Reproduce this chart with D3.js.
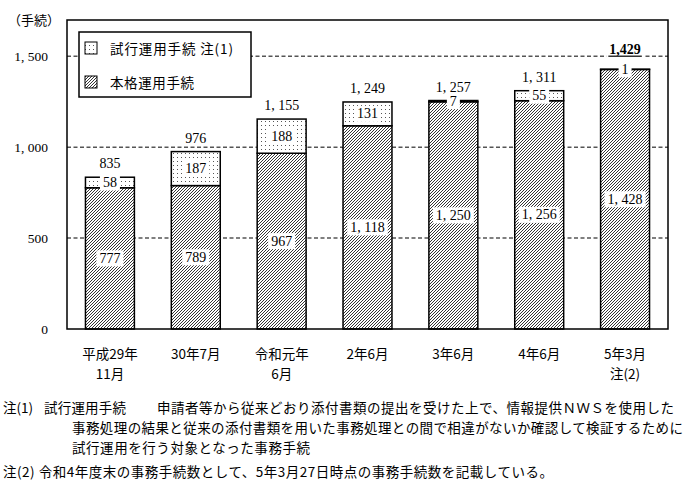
<!DOCTYPE html>
<html><head><meta charset="utf-8">
<script src="https://cdn.jsdelivr.net/npm/d3@7"></script>
<style>
body{margin:0;background:#fff;}
svg{display:block;}
</style></head>
<body>
<svg id="chart" width="696" height="500"></svg>
<script>
const categories = [["平成29年","11月"],["30年7月"],["令和元年","6月"],["2年6月"],["3年6月"],["4年6月"],["5年3月","注(2)"]];
const mainValues  = [777, 789, 967, 1118, 1250, 1256, 1428];
const trialValues = [58, 187, 188, 131, 7, 55, 1];
const totals      = [835, 976, 1155, 1249, 1257, 1311, 1429];
const yTicks      = [0, 500, 1000, 1500];
const seriesNames = ["試行運用手続 注(1)", "本格運用手続"];
const unitLabel   = "（手続）";
const note1Parts  = ["注(1)", "試行運用手続", "申請者等から従来どおり添付書類の提出を受けた上で、情報提供ＮＷＳを使用した"];
const note1Lines  = [
  "事務処理の結果と従来の添付書類を用いた事務処理との間で相違がないか確認して検証するために",
  "試行運用を行う対象となった事務手続"
];
const note2 = "注(2) 令和4年度末の事務手続数として、5年3月27日時点の事務手続数を記載している。";

const svg = d3.select("#chart");
const JP = "'Noto Sans CJK JP', sans-serif";
const NUM = "'Liberation Serif', 'DejaVu Serif', serif";
const fmt = v => d3.format(",")(v).replace(/,/g, ", ");

const m = {left:67, right:668, top:20, bottom:329};
const x = d3.scaleBand().domain(d3.range(categories.length)).range([m.left, m.right]).paddingInner(0.43).paddingOuter(0.215);
const y = d3.scaleLinear().domain([0, 1700]).range([m.bottom, m.top]);

// patterns
const defs = svg.append("defs");
const hatch = defs.append("pattern").attr("id","hatch").attr("patternUnits","userSpaceOnUse").attr("width",3).attr("height",3);
hatch.append("rect").attr("width",3).attr("height",3).attr("fill","#fff");
hatch.append("path").attr("d","M-1,1 L1,-1 M0,3 L3,0 M2,4 L4,2").attr("stroke","#111").attr("stroke-width",0.85);
const dots = defs.append("pattern").attr("id","dots").attr("patternUnits","userSpaceOnUse").attr("width",4).attr("height",4);
dots.append("rect").attr("width",4).attr("height",4).attr("fill","#fff");
dots.append("rect").attr("x",1).attr("y",1).attr("width",1).attr("height",1).attr("fill","#555");

// gridlines
svg.append("g").selectAll("line").data(yTicks.filter(d=>d>0)).join("line")
  .attr("x1",m.left).attr("x2",m.right).attr("y1",d=>y(d)).attr("y2",d=>y(d))
  .attr("stroke","#555").attr("stroke-width",1.5).attr("stroke-dasharray","4,2.5");

// y axis labels
const yAxis = d3.axisLeft(y).tickValues(yTicks).tickFormat(fmt).tickSize(0).tickPadding(19);
const ya = svg.append("g").attr("transform",`translate(${m.left},0)`).call(yAxis);
ya.select(".domain").remove();
ya.selectAll("text").attr("font-family",NUM).attr("font-size",13.5).attr("fill","#000");

svg.append("text").attr("x",8).attr("y",19).attr("dominant-baseline","central")
  .attr("font-family",JP).attr("font-size",13).text(unitLabel);

// bars
const g = svg.append("g");
g.selectAll("rect.main").data(mainValues).join("rect").attr("class","main")
  .attr("x",(d,i)=>x(i)).attr("width",x.bandwidth())
  .attr("y",d=>y(d)).attr("height",d=>y(0)-y(d))
  .attr("fill","url(#hatch)").attr("stroke","#000").attr("stroke-width",1.5);
g.selectAll("rect.trial").data(trialValues).join("rect").attr("class","trial")
  .attr("x",(d,i)=>x(i)).attr("width",x.bandwidth())
  .attr("y",(d,i)=>y(mainValues[i]+d)).attr("height",(d,i)=>y(mainValues[i])-y(mainValues[i]+d))
  .attr("fill","url(#dots)").attr("stroke","#000").attr("stroke-width",1.5);

// labels with white boxes
function boxedLabel(parent, cx, cy, txt, opts={}) {
  const gg = parent.append("g");
  const r = gg.append("rect").attr("fill","#fff");
  const t = gg.append("text").attr("x",cx).attr("y",cy).attr("text-anchor","middle")
    .attr("dominant-baseline","central").attr("font-family",NUM).attr("font-size",14)
    .attr("font-weight",opts.bold?"bold":"normal").text(txt);
  const b = t.node().getBBox();
  r.attr("x",b.x-3).attr("y",cy-8).attr("width",b.width+6).attr("height",16);
  if (!opts.box) r.attr("fill","none");
  if (opts.underline) gg.append("line").attr("x1",b.x-1).attr("x2",b.x+b.width+1)
      .attr("y1",cy+7).attr("y2",cy+7).attr("stroke","#333").attr("stroke-width",1.5);
  return gg;
}
const lab = svg.append("g");
mainValues.forEach((v,i)=>{
  boxedLabel(lab, x(i)+x.bandwidth()/2, (y(0)+y(v))/2, fmt(v), {box:true});
});
trialValues.forEach((v,i)=>{
  boxedLabel(lab, x(i)+x.bandwidth()/2, (y(mainValues[i])+y(mainValues[i]+v))/2, fmt(v), {box:true});
});
totals.forEach((v,i)=>{
  const last = i === totals.length-1;
  boxedLabel(lab, x(i)+x.bandwidth()/2, y(v) - (last?20:13.5), last ? d3.format(",")(v) : fmt(v), {box:last, bold:last, underline:last});
});

// frame
svg.append("rect").attr("x",m.left).attr("y",m.top).attr("width",m.right-m.left).attr("height",m.bottom-m.top)
  .attr("fill","none").attr("stroke","#000").attr("stroke-width",1.5);

// legend
const lg = svg.append("g");
lg.append("rect").attr("x",79).attr("y",32).attr("width",172).attr("height",65).attr("fill","#fff").attr("stroke","#000").attr("stroke-width",1.5);
const lItems = [{name:seriesNames[0], fill:"url(#dots)", cy:48, w:123},{name:seriesNames[1], fill:"url(#hatch)", cy:82, w:84}];
lItems.forEach(it=>{
  lg.append("rect").attr("x",85).attr("y",it.cy-6).attr("width",12).attr("height",12).attr("fill",it.fill).attr("stroke","#000").attr("stroke-width",1);
  lg.append("text").attr("x",110).attr("y",it.cy).attr("dominant-baseline","central").attr("font-family",JP).attr("font-size",13.5)
    .attr("textLength",it.w).attr("lengthAdjust","spacing").text(it.name);
});

// x labels
categories.forEach((lines,i)=>{
  lines.forEach((s,j)=>{
    svg.append("text").attr("x",x(i)+x.bandwidth()/2).attr("y",353+j*20).attr("text-anchor","middle")
      .attr("dominant-baseline","central").attr("font-family",JP).attr("font-size",13.5).text(s);
  });
});

// notes
const nf = 13.5;
function note(xp, yp, txt, len) {
  const t = svg.append("text").attr("x",xp).attr("y",yp).attr("dominant-baseline","central")
    .attr("font-family",JP).attr("font-size",nf).text(txt);
  if (len) t.attr("textLength",len).attr("lengthAdjust","spacing");
}
note(3, 407, note1Parts[0], 30);
note(44, 407, note1Parts[1], 82);
note(157, 407, note1Parts[2], 517);
note(72, 427, note1Lines[0], 611);
note(72, 447, note1Lines[1], 238);
note(3, 471, note2, 550);
</script>
</body></html>
